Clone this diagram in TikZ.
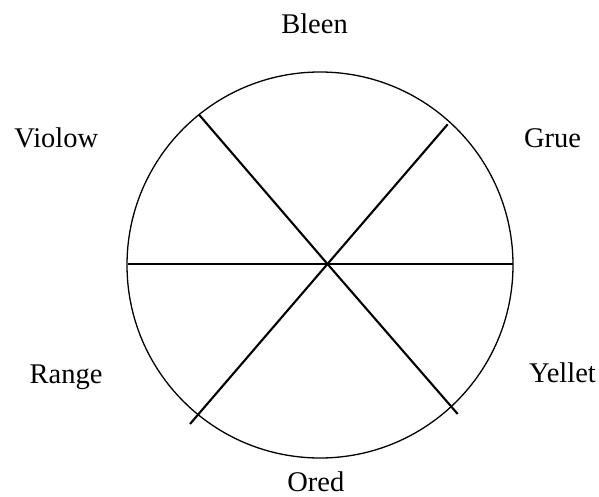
\documentclass[tikz,border=0pt]{standalone}
\usepackage{fontspec}
\setmainfont{Liberation Serif}

\begin{document}
\begin{tikzpicture}[
    x=1pt, y=-1pt,
    font=\fontsize{28.5}{34}\selectfont,
    rim/.style={draw=black, line width=1.3pt},
    spoke/.style={draw=black, line width=2.1pt},
    flat/.style={draw=black, line width=1.5pt},
    hue/.style={anchor=base, inner sep=0pt},
  ]
    \useasboundingbox (0,0) rectangle (599,497);

    % --- wheel ---
    \node[rim, circle, minimum size=386pt, inner sep=0pt] (wheel) at (320,265) {};
    \coordinate (hub) at (327.5,264);

    % --- spoke ends ---
    \coordinate (west) at (128,264);
    \coordinate (east) at (513,264);
    \coordinate (nw) at (199.3,115);
    \coordinate (se) at (457.7,414);
    \coordinate (ne) at (447.7,124.3);
    \coordinate (sw) at (190,424);

    \draw[flat] (west) -- (east);
    \draw[spoke] (nw) -- (hub) -- (se);
    \draw[spoke] (ne) -- (hub) -- (sw);

    % --- labels ---
    \node[hue] (bleen)  at (314.5,33.3)  {Bleen};
    \node[hue] (violow) at (56.3,147.3)  {Violow};
    \node[hue] (grue)   at (552.5,147.3) {Grue};
    \node[hue] (range)  at (66,383.3)    {Range};
    \node[hue] (yellet) at (562.5,382)   {Yellet};
    \node[hue] (ored)   at (315.8,491.7) {Ored};
  \end{tikzpicture}
\end{document}
